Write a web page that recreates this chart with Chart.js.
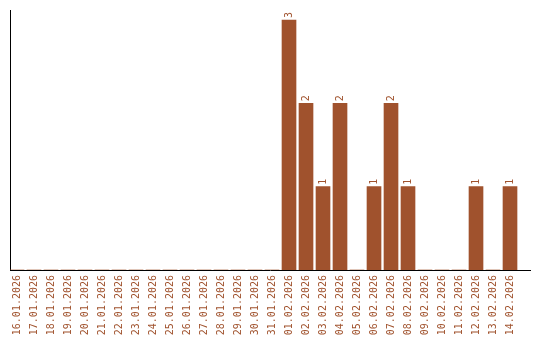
<!DOCTYPE html>
<html>
<head>
<meta charset="utf-8">
<script src="https://cdn.jsdelivr.net/npm/chart.js@4/dist/chart.umd.min.js"></script>
<style>
  html, body { margin: 0; padding: 0; background: #fff; }
  #wrap { width: 540px; height: 340px; }
</style>
</head>
<body>
<div id="wrap"><canvas id="c"></canvas></div>
<script>
const days = [
  '16.01.2026', '17.01.2026', '18.01.2026', '19.01.2026', '20.01.2026',
  '21.01.2026', '22.01.2026', '23.01.2026', '24.01.2026', '25.01.2026',
  '26.01.2026', '27.01.2026', '28.01.2026', '29.01.2026', '30.01.2026',
  '31.01.2026', '01.02.2026', '02.02.2026', '03.02.2026', '04.02.2026',
  '05.02.2026', '06.02.2026', '07.02.2026', '08.02.2026', '09.02.2026',
  '10.02.2026', '11.02.2026', '12.02.2026', '13.02.2026', '14.02.2026'
];
const counts = [
  0, 0, 0, 0, 0,
  0, 0, 0, 0, 0,
  0, 0, 0, 0, 0,
  0, 3, 2, 1, 2,
  0, 1, 2, 1, 0,
  0, 0, 1, 0, 1
];

const brown = '#a0522d';
const font = { family: '"DejaVu Sans Mono", monospace', size: 10 };

// valeurs écrites au-dessus des barres, tournées de 90°
const barValues = {
  id: 'barValues',
  afterDatasetsDraw(chart) {
    const c = chart.ctx;
    const meta = chart.getDatasetMeta(0);
    c.save();
    c.fillStyle = brown;
    c.font = '10px "DejaVu Sans Mono", monospace';
    c.textAlign = 'left';
    c.textBaseline = 'middle';
    meta.data.forEach((bar, i) => {
      const v = counts[i];
      if (!v) return;
      c.save();
      c.translate(bar.x, bar.y - 2);
      c.rotate(-Math.PI / 2);
      c.fillText(String(v), 0, 0);
      c.restore();
    });
    c.restore();
  }
};

new Chart(document.getElementById('c'), {
  type: 'bar',
  data: {
    datasets: [{
      data: counts.map((v, i) => ({ x: i, y: v })),
      backgroundColor: brown,
      borderWidth: 0,
      barThickness: 14
    }]
  },
  options: {
    responsive: true,
    maintainAspectRatio: false,
    animation: false,
    layout: { padding: { left: 0, right: 10, top: 10, bottom: 0 } },
    plugins: { legend: { display: false }, tooltip: { enabled: false } },
    scales: {
      x: {
        type: 'linear',
        min: -0.412,
        max: 30.176,
        offset: false,
        grid: { display: false, drawTicks: false },
        border: { display: true, color: '#000', width: 1 },
        afterFit: s => { s.height = 70; s.paddingLeft = 0; s.paddingRight = 0; },
        ticks: {
          color: brown, font, minRotation: 90, maxRotation: 90, padding: 5,
          autoSkip: false, stepSize: 1, includeBounds: false,
          callback: v => Number.isInteger(v) && days[v] ? days[v] : ''
        }
      },
      y: {
        min: 0,
        max: 3.12,
        grid: { display: false },
        border: { display: true, color: '#000', width: 1 },
        afterFit: s => { s.width = 10; },
        ticks: { display: false }
      }
    }
  },
  plugins: [barValues]
});
</script>
</body>
</html>
